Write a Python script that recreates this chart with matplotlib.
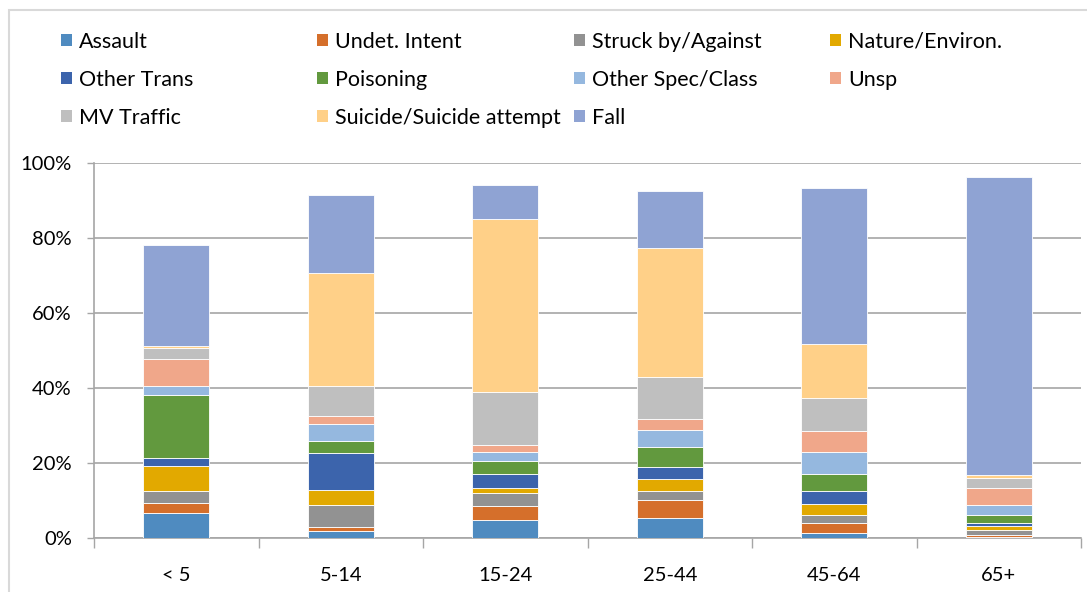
import numpy as np
import matplotlib.pyplot as plt
from matplotlib.patches import Rectangle, Patch

plt.rcParams['font.family'] = ['Lato', 'DejaVu Sans']

age_groups = ['< 5', '5-14', '15-24', '25-44', '45-64', '65+']

# percent of injuries by mechanism, stacked bottom to top
assault       = [6.7, 1.8, 4.7, 5.2, 1.4, 0.3]
undet_intent  = [2.5, 1.1, 3.8, 4.9, 2.7, 0.4]
struck        = [3.3, 5.8, 3.6, 2.4, 2.0, 1.4]
nature        = [6.7, 4.0, 1.3, 3.1, 2.9, 1.1]
other_trans   = [2.0, 9.9, 3.6, 3.2, 3.5, 0.7]
poisoning     = [16.9, 3.2, 3.5, 5.5, 4.5, 2.1]
other_spec    = [2.4, 4.7, 2.4, 4.4, 5.8, 2.7]
unsp          = [7.1, 2.1, 2.0, 2.9, 5.8, 4.5]
mv_traffic    = [3.1, 7.9, 14.0, 11.2, 8.7, 2.7]
suicide       = [0.4, 30.2, 46.1, 34.5, 14.4, 0.9]
fall          = [26.9, 20.6, 9.0, 15.2, 41.6, 79.5]

series = [
    ('Assault', assault, '#4F8BC0'),
    ('Undet. Intent', undet_intent, '#D56F2B'),
    ('Struck by/Against', struck, '#929292'),
    ('Nature/Environ.', nature, '#E2A900'),
    ('Other Trans', other_trans, '#3C64AC'),
    ('Poisoning', poisoning, '#62993E'),
    ('Other Spec/Class', other_spec, '#95B8DF'),
    ('Unsp', unsp, '#F0A78A'),
    ('MV Traffic', mv_traffic, '#BFBFBF'),
    ('Suicide/Suicide attempt', suicide, '#FFD088'),
    ('Fall', fall, '#8FA3D3'),
]

fig = plt.figure(figsize=(10.87, 5.92), dpi=100)
W, H = 1087, 592
ax = fig.add_axes([94 / W, (H - 538) / H, (1081 - 94) / W, (538 - 162.7) / H])

x = np.arange(len(age_groups))
bottom = np.zeros(len(age_groups))
for name, vals, col in series:
    v = np.array(vals) / 100.0
    ax.bar(x, v, width=0.4, bottom=bottom, color=col, edgecolor='white',
           linewidth=0.6, label=name, zorder=3)
    bottom += v

ax.set_xlim(-0.5, len(age_groups) - 0.5)
ax.set_ylim(0, 1.0)
ax.set_yticks(np.arange(0, 1.01, 0.2))
ax.set_yticklabels([f'{int(round(t * 100))}%' for t in np.arange(0, 1.01, 0.2)])
ax.grid(axis='y', color='#A6A6A6', linewidth=1.2, zorder=0)
ax.set_axisbelow(True)

ax.set_xticks(x)
ax.set_xticklabels(age_groups)
ax.set_xticks(np.arange(-0.5, len(age_groups), 1.0), minor=True)
ax.tick_params(axis='x', which='major', length=0, pad=21, labelsize=14.5)
ax.tick_params(axis='x', which='minor', length=7, color='#A6A6A6', width=1)
ax.tick_params(axis='y', length=5, color='#A6A6A6', width=1, pad=11, labelsize=14.5)

for s in ['top', 'right']:
    ax.spines[s].set_visible(False)
for s in ['left', 'bottom']:
    ax.spines[s].set_color('#A6A6A6')
    ax.spines[s].set_linewidth(1.2)

# legend: four columns placed by hand
handles = [Patch(facecolor=c, edgecolor='none') for _, _, c in series]
labels = [n for n, _, _ in series]
col_x = [61, 317, 574, 830]
for c in range(4):
    idx = [i for i in range(len(series)) if i % 4 == c]
    fig.legend([handles[i] for i in idx], [labels[i] for i in idx],
               loc='upper left', bbox_to_anchor=(col_x[c] / W, 1 - 32 / H),
               frameon=False, fontsize=15.5, handlelength=0.5, handleheight=0.5,
               handletextpad=0.35, labelspacing=0.83, borderaxespad=0, borderpad=0)

# chart border
fig.patches.append(Rectangle((9 / W, -0.1), 1.2, 1 - 10 / H + 0.1, transform=fig.transFigure,
                             fill=False, edgecolor='#D9D9D9', linewidth=1.5))

fig.savefig('out.png', dpi=100)
